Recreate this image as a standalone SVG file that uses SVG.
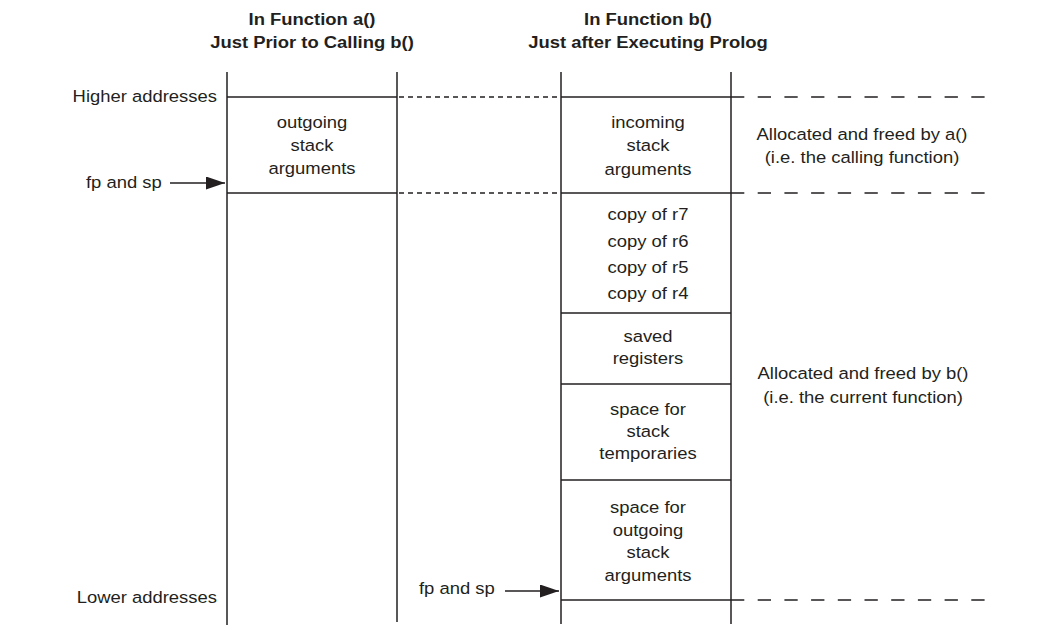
<svg xmlns="http://www.w3.org/2000/svg" width="1056" height="644" viewBox="0 0 1056 644">
<style>
text{font-family:"Liberation Sans",Arial,sans-serif;font-size:17px;fill:#231f20}
.b{font-weight:bold}
.m{text-anchor:middle}
.e{text-anchor:end}
.ln{stroke:#231f20;stroke-width:1.5;fill:none}
.sd{stroke:#231f20;stroke-width:1.4;stroke-dasharray:5 4;fill:none}
.ld{stroke:#231f20;stroke-width:1.3;stroke-dasharray:13.3 13.4;fill:none}
</style>
<defs>
<marker id="ah" markerWidth="19" markerHeight="13" refX="19" refY="6.5" orient="auto" markerUnits="userSpaceOnUse">
<path d="M0,0 L19,6.5 L0,13 Z" fill="#231f20"/>
</marker>
</defs>
<rect width="1056" height="644" fill="#fff"/>
<g id="title-a">
<text class="b m" transform="translate(312,25) scale(1.085,1)">In Function a()</text>
<text class="b m" transform="translate(312,48) scale(1.085,1)">Just Prior to Calling b()</text>
</g>
<g id="title-b">
<text class="b m" transform="translate(648,25) scale(1.085,1)">In Function b()</text>
<text class="b m" transform="translate(648,48) scale(1.085,1)">Just after Executing Prolog</text>
</g>
<g id="stack-a">
<line class="ln" x1="227" y1="72" x2="227" y2="625"/>
<line class="ln" x1="397" y1="72" x2="397" y2="622"/>
<line class="ln" x1="227" y1="97" x2="397" y2="97"/>
<line class="ln" x1="227" y1="193" x2="397" y2="193"/>
</g>
<g id="a-outgoing">
<text class="m" transform="translate(312,128) scale(1.085,1)">outgoing</text>
<text class="m" transform="translate(312,151) scale(1.085,1)">stack</text>
<text class="m" transform="translate(312,174) scale(1.085,1)">arguments</text>
</g>
<g id="stack-b">
<line class="ln" x1="561" y1="72" x2="561" y2="624"/>
<line class="ln" x1="731" y1="72" x2="731" y2="624"/>
<line class="ln" x1="561" y1="97" x2="731" y2="97"/>
<line class="ln" x1="561" y1="193" x2="731" y2="193"/>
<line class="ln" x1="561" y1="313" x2="731" y2="313"/>
<line class="ln" x1="561" y1="384" x2="731" y2="384"/>
<line class="ln" x1="561" y1="480" x2="731" y2="480"/>
<line class="ln" x1="561" y1="600" x2="731" y2="600"/>
</g>
<g id="b-incoming">
<text class="m" transform="translate(648,128) scale(1.085,1)">incoming</text>
<text class="m" transform="translate(648,151) scale(1.085,1)">stack</text>
<text class="m" transform="translate(648,175) scale(1.085,1)">arguments</text>
</g>
<g id="b-copies">
<text class="m" transform="translate(648,220) scale(1.085,1)">copy of r7</text>
<text class="m" transform="translate(648,247) scale(1.085,1)">copy of r6</text>
<text class="m" transform="translate(648,273) scale(1.085,1)">copy of r5</text>
<text class="m" transform="translate(648,299) scale(1.085,1)">copy of r4</text>
</g>
<g id="b-saved">
<text class="m" transform="translate(648,342) scale(1.085,1)">saved</text>
<text class="m" transform="translate(648,364) scale(1.085,1)">registers</text>
</g>
<g id="b-temporaries">
<text class="m" transform="translate(648,415) scale(1.085,1)">space for</text>
<text class="m" transform="translate(648,437) scale(1.085,1)">stack</text>
<text class="m" transform="translate(648,459) scale(1.085,1)">temporaries</text>
</g>
<g id="b-outgoing">
<text class="m" transform="translate(648,513) scale(1.085,1)">space for</text>
<text class="m" transform="translate(648,536) scale(1.085,1)">outgoing</text>
<text class="m" transform="translate(648,558) scale(1.085,1)">stack</text>
<text class="m" transform="translate(648,581) scale(1.085,1)">arguments</text>
</g>
<g id="labels">
<text class="e" transform="translate(217,102) scale(1.085,1)">Higher addresses</text>
<text class="e" transform="translate(217,603) scale(1.085,1)">Lower addresses</text>
<text transform="translate(86,188) scale(1.085,1)">fp and sp</text>
<text transform="translate(419,594) scale(1.085,1)">fp and sp</text>
<text class="m" transform="translate(862,140) scale(1.085,1)">Allocated and freed by a()</text>
<text class="m" transform="translate(862,163) scale(1.085,1)">(i.e. the calling function)</text>
<text class="m" transform="translate(863,379) scale(1.085,1)">Allocated and freed by b()</text>
<text class="m" transform="translate(863,403) scale(1.085,1)">(i.e. the current function)</text>
</g>
<g id="connectors">
<line class="sd" x1="399" y1="97" x2="559" y2="97"/>
<line class="sd" x1="399" y1="193" x2="559" y2="193"/>
<line class="ld" x1="731" y1="97" x2="985" y2="97"/>
<line class="ld" x1="731" y1="193" x2="985" y2="193"/>
<line class="ld" x1="731" y1="600" x2="985" y2="600"/>
<line class="ln" x1="170" y1="183" x2="225" y2="183" marker-end="url(#ah)"/>
<line class="ln" x1="505" y1="591" x2="559" y2="591" marker-end="url(#ah)"/>
</g>
</svg>
